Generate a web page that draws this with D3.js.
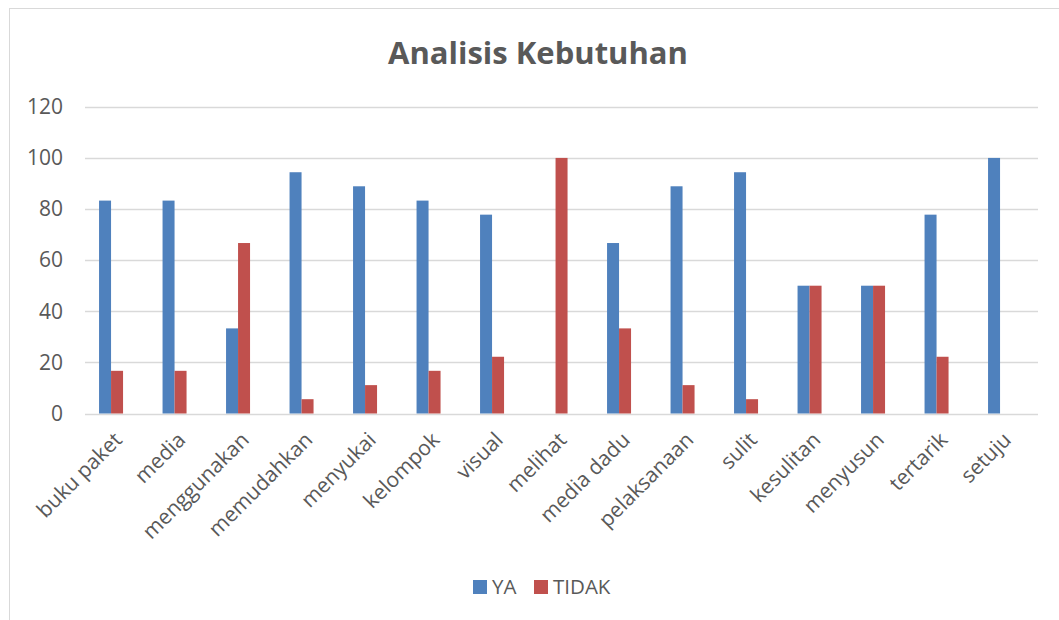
<!DOCTYPE html>
<html lang="en">
<head>
    <meta charset="UTF-8">
    <script src="https://d3js.org/d3.v7.min.js"></script>
    <style>
        body { margin: 0; background: #fff; font-family: "Open Sans", Arial, sans-serif; }
    </style>
</head>
<body>
<div id="chart"></div>
<script>
// Data
var categories = ["buku paket", "media", "menggunakan", "memudahkan", "menyukai", "kelompok", "visual",
    "melihat", "media dadu", "pelaksanaan", "sulit", "kesulitan", "menyusun", "tertarik", "setuju"];
var ya    = [83.3, 83.3, 33.3, 94.4, 88.9, 83.3, 77.8, 0, 66.7, 88.9, 94.4, 50, 50, 77.8, 100];
var tidak = [16.7, 16.7, 66.7, 5.6, 11.1, 16.7, 22.2, 100, 33.3, 11.1, 5.6, 50, 50, 22.2, 0];
var seriesNames = ["YA", "TIDAK"];
var yTicks = [0, 20, 40, 60, 80, 100, 120];

var colors = { "YA": "#4F81BD", "TIDAK": "#C0504D" };
var textColor = "#595959";

var W = 1059, H = 620;
var svg = d3.select("#chart").append("svg")
    .attr("width", W)
    .attr("height", H);

// chart border
svg.append("rect")
    .attr("x", 9.5).attr("y", 8.5)
    .attr("width", W + 10).attr("height", H + 10)
    .attr("fill", "#fff")
    .attr("stroke", "#d9d9d9");

// Scales
var y = d3.scaleLinear().domain([0, 120]).range([413.5, 106.8]);
var x = d3.scaleBand().domain(categories).range([79.3, 1031.8]);
var barW = 12;

// Title
svg.append("text")
    .attr("x", 538).attr("y", 64)
    .attr("text-anchor", "middle")
    .style("font-size", "31px")
    .style("font-weight", "bold")
    .attr("fill", textColor)
    .text("Analisis Kebutuhan");

// Gridlines
svg.append("g").selectAll("line")
    .data(yTicks)
    .enter().append("line")
        .attr("x1", 85).attr("x2", 1038)
        .attr("y1", function(d) { return Math.round(y(d)) + 0.5; })
        .attr("y2", function(d) { return Math.round(y(d)) + 0.5; })
        .attr("stroke", "#d9d9d9")
        .attr("stroke-width", 1.5);

// Y axis labels
var yAxis = svg.append("g")
    .attr("transform", "translate(63,0)")
    .call(d3.axisLeft(y).tickValues(yTicks).tickSize(0).tickPadding(0));
yAxis.select(".domain").remove();
yAxis.selectAll("text")
    .style("font-size", "21px")
    .style("font-family", "'Open Sans', Arial, sans-serif")
    .attr("fill", textColor);

// Bars
var rows = categories.map(function(c, i) { return { cat: c, vals: [ya[i], tidak[i]] }; });
var groups = svg.append("g").selectAll("g")
    .data(rows)
    .enter().append("g")
        .attr("transform", function(d) { return "translate(" + (x(d.cat) + x.bandwidth() / 2) + ",0)"; });

groups.selectAll("rect")
    .data(function(d) { return d.vals.map(function(v, j) { return { name: seriesNames[j], v: v, j: j }; }); })
    .enter().append("rect")
        .attr("x", function(d) { return d.j === 0 ? -barW : 0; })
        .attr("width", barW)
        .attr("y", function(d) { return y(d.v); })
        .attr("height", function(d) { return y(0) - y(d.v); })
        .attr("fill", function(d) { return colors[d.name]; });

// X axis labels (rotated)
svg.append("g").selectAll("text")
    .data(categories)
    .enter().append("text")
        .attr("transform", function(d) {
            return "translate(" + (x(d) + x.bandwidth() / 2 + 7) + ",436) rotate(-45)";
        })
        .attr("text-anchor", "end")
        .attr("dy", "0.35em")
        .style("font-size", "21px")
        .attr("fill", textColor)
        .text(function(d) { return d; });

// Legend
var legend = svg.append("g").attr("transform", "translate(473,580)");
var items = [{ name: "YA", x: 0 }, { name: "TIDAK", x: 61 }];
items.forEach(function(it) {
    legend.append("rect")
        .attr("x", it.x).attr("y", 0)
        .attr("width", 14).attr("height", 14)
        .attr("fill", colors[it.name]);
    legend.append("text")
        .attr("x", it.x + 19).attr("y", 7)
        .attr("dy", "0.36em")
        .style("font-size", "20.5px")
        .attr("fill", textColor)
        .text(it.name);
});
</script>
</body>
</html>
